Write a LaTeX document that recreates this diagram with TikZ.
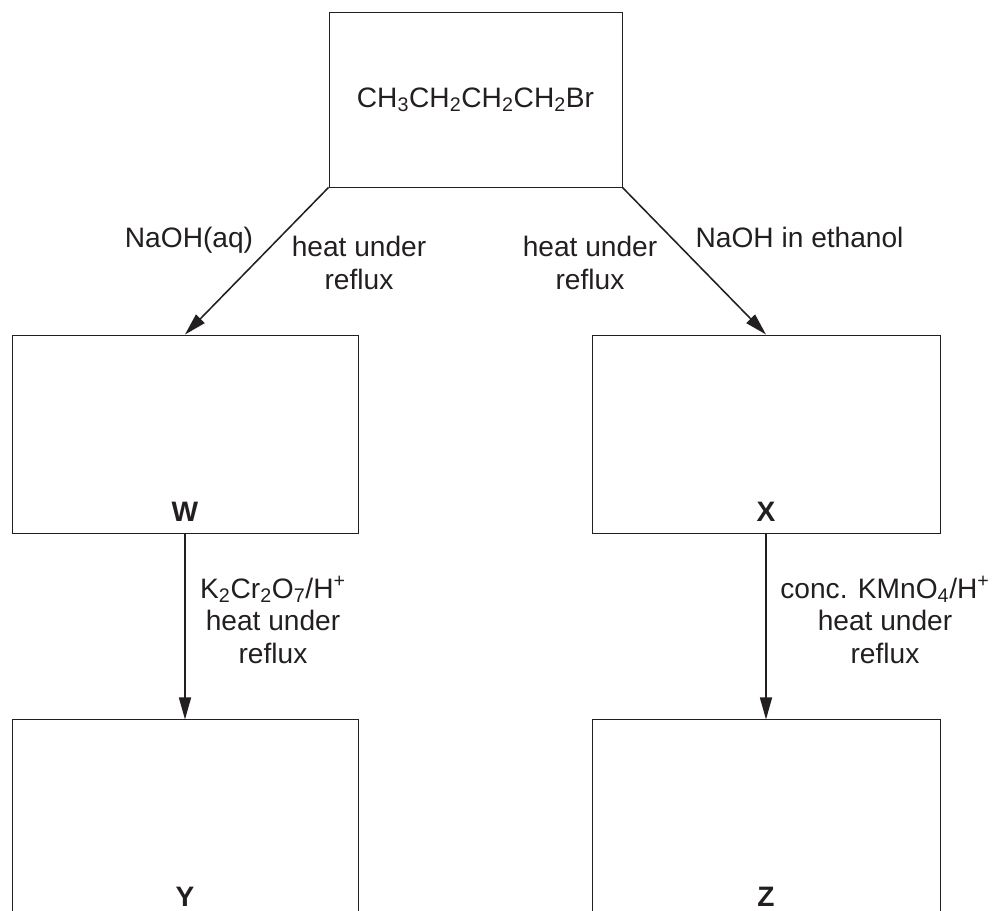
\documentclass[tikz,border=0pt]{standalone}
\usepackage{fontspec}
\setmainfont{Liberation Sans}
\usetikzlibrary{arrows.meta,positioning}
\definecolor{ink}{RGB}{35,31,32}

\begin{document}
\begin{tikzpicture}[font=\fontsize{20}{23}\selectfont, color=ink]
\tikzstyle{box} = [draw, line width=0.7pt, minimum width=8.65cm, minimum height=4.95cm, inner sep=0pt]
\tikzstyle{arr} = [-{Triangle[length=0.55cm,width=0.3cm]}, line width=1.1pt]
\tikzstyle{cond} = [align=center, inner sep=0pt]
\tikzstyle{tag} = [anchor=base, inner sep=0pt, font=\fontsize{20}{23}\selectfont\bfseries]
    \useasboundingbox (0,0) rectangle (24.875,-22.775);
    \clip (0,0) rectangle (24.875,-22.775);
    \node[box, minimum width=7.325cm, minimum height=4.375cm] (Start) at (11.8875,-2.4875) {CH\textsubscript{3}CH\textsubscript{2}CH\textsubscript{2}CH\textsubscript{2}Br};
    \node[box] (W) at (4.625,-10.85) {};
    \node[box, minimum width=8.7cm] (X) at (19.15,-10.85) {};
    \node[box, below=4.65cm of W] (Y) {};
    \node[box, minimum width=8.7cm, below=4.65cm of X] (Z) {};
    \node[tag] (WName) at ([yshift=0.3cm]W.south) {W};
    \node[tag] (XName) at ([yshift=0.3cm]X.south) {X};
    \node[tag] (YName) at ([yshift=0.3cm]Y.south) {Y};
    \node[tag] (ZName) at ([yshift=0.3cm]Z.south) {Z};
    \node[anchor=base] (AqCond) at (4.725,-6.175) {NaOH(aq)};
    \node[cond] (AqHeat) at (8.975,-6.575) {heat under\\reflux};
    \node[cond] (EthHeat) at (14.75,-6.575) {heat under\\reflux};
    \node[anchor=base] (EthCond) at (19.99,-6.175) {NaOH in ethanol};
    \node[cond] (DichCond) at (6.825,-15.5) {K\textsubscript{2}Cr\textsubscript{2}O\textsubscript{7}/H\textsuperscript{+}\\heat under\\reflux};
    \node[cond] (PermCond) at (22.125,-15.5) {conc. KMnO\textsubscript{4}/H\textsuperscript{+}\\heat under\\reflux};

    \draw[arr] (Start.south west) -- (W.north);
    \draw[arr] (Start.south east) -- (X.north);
    \draw[arr] (W.south) -- (Y.north);
    \draw[arr] (X.south) -- (Z.north);
\end{tikzpicture}
\end{document}
